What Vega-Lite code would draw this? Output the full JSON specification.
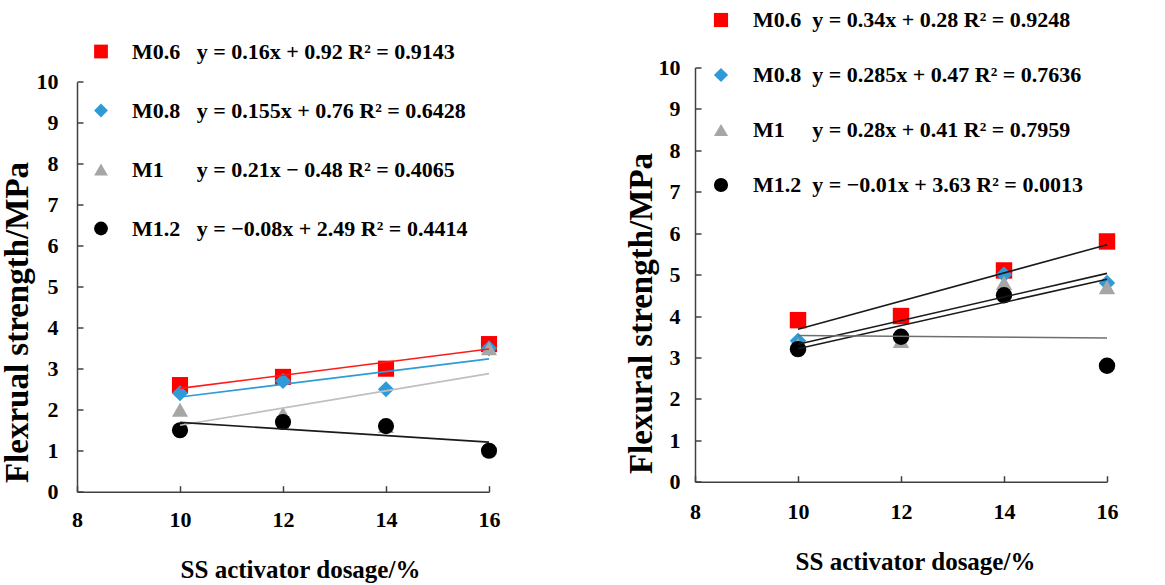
{
  "$schema": "https://vega.github.io/schema/vega-lite/v6.json",
  "autosize": {"type": "none"},
  "padding": {"left": 77, "top": 67.5, "right": 58, "bottom": 93.3},
  "width": 1030,
  "height": 424.2,
  "background": "white",
  "config": {
    "view": {"stroke": null},
    "font": "Liberation Serif",
    "axis": {
      "grid": false,
      "domainColor": "#404040",
      "domainWidth": 1.5,
      "tickColor": "#404040",
      "tickWidth": 1.5,
      "tickSize": -6,
      "labelFont": "Liberation Serif",
      "labelFontSize": 22,
      "labelFontWeight": "bold",
      "labelColor": "#000000",
      "labelFlush": false,
      "labelOverlap": false,
      "titleFont": "Liberation Serif",
      "titleFontWeight": "bold",
      "titleColor": "#000000"
    },
    "legend": {
      "labelFont": "Liberation Serif",
      "labelFontSize": 22,
      "labelFontWeight": "bold",
      "labelColor": "#000000",
      "labelLimit": 600,
      "symbolStrokeWidth": 0
    }
  },
  "datasets": {
    "mortarA": [
      {"series": "M0.6", "dosage": 10, "strength": 2.6},
      {"series": "M0.6", "dosage": 12, "strength": 2.8},
      {"series": "M0.6", "dosage": 14, "strength": 3.0},
      {"series": "M0.6", "dosage": 16, "strength": 3.6},
      {"series": "M0.8", "dosage": 10, "strength": 2.4},
      {"series": "M0.8", "dosage": 12, "strength": 2.7},
      {"series": "M0.8", "dosage": 14, "strength": 2.5},
      {"series": "M0.8", "dosage": 16, "strength": 3.5},
      {"series": "M1", "dosage": 10, "strength": 2.0},
      {"series": "M1", "dosage": 12, "strength": 1.9},
      {"series": "M1", "dosage": 14, "strength": 1.6},
      {"series": "M1", "dosage": 16, "strength": 3.5},
      {"series": "M1.2", "dosage": 10, "strength": 1.5},
      {"series": "M1.2", "dosage": 12, "strength": 1.7},
      {"series": "M1.2", "dosage": 14, "strength": 1.6},
      {"series": "M1.2", "dosage": 16, "strength": 1.0}
    ],
    "mortarB": [
      {"series": "M0.6", "dosage": 10, "strength": 3.9},
      {"series": "M0.6", "dosage": 12, "strength": 4.0},
      {"series": "M0.6", "dosage": 14, "strength": 5.1},
      {"series": "M0.6", "dosage": 16, "strength": 5.8},
      {"series": "M0.8", "dosage": 10, "strength": 3.4},
      {"series": "M0.8", "dosage": 12, "strength": 3.5},
      {"series": "M0.8", "dosage": 14, "strength": 5.0},
      {"series": "M0.8", "dosage": 16, "strength": 4.8},
      {"series": "M1", "dosage": 10, "strength": 3.3},
      {"series": "M1", "dosage": 12, "strength": 3.4},
      {"series": "M1", "dosage": 14, "strength": 4.8},
      {"series": "M1", "dosage": 16, "strength": 4.7},
      {"series": "M1.2", "dosage": 10, "strength": 3.2},
      {"series": "M1.2", "dosage": 12, "strength": 3.5},
      {"series": "M1.2", "dosage": 14, "strength": 4.5},
      {"series": "M1.2", "dosage": 16, "strength": 2.8}
    ]
  },
  "layer": [
    {
      "data": {"name": "mortarA"},
      "encoding": {
        "x": {
          "field": "dosage", "type": "quantitative",
          "scale": {"domain": [8, 16], "range": [0, 412], "nice": false, "zero": false},
          "axis": {"orient": "bottom", "values": [8, 10, 12, 14, 16], "labelFont": "Liberation Serif", "labelFontWeight": "bold", "labelFontSize": 22, "title": "SS activator dosage/%", "titleFontSize": 25, "titleX": 223, "titleY": 78, "titleBaseline": "middle", "labelPadding": 24}
        },
        "y": {
          "field": "strength", "type": "quantitative",
          "scale": {"domain": [0, 10], "range": [424.2, 14.2], "nice": false},
          "axis": {"orient": "left", "values": [0, 1, 2, 3, 4, 5, 6, 7, 8, 9, 10], "labelFont": "Liberation Serif", "labelFontWeight": "bold", "labelFontSize": 22, "title": "Flexrual strength/MPa", "titleFontSize": 33, "titleX": -60, "titleY": 254.5, "titleAngle": -90, "titleBaseline": "middle", "labelPadding": 25}
        }
      },
      "layer": [
        {
          "mark": {"type": "point", "filled": true, "size": 260, "opacity": 1},
          "encoding": {
            "color": {
              "field": "series", "type": "nominal",
              "scale": {"domain": ["M0.6", "M0.8", "M1", "M1.2"], "range": ["#FF0000", "#2E9BD8", "#A6A6A6", "#000000"]},
              "legend": {"orient": "none", "legendX": 13, "legendY": -27, "title": null, "symbolSize": 190, "rowPadding": 37, "labelOffset": 20,
                "labelFont": "Liberation Serif", "labelFontWeight": "bold", "labelFontSize": 22,
                "labelExpr": "datum.label == 'M0.6' ? 'M0.6\u2002 y = 0.16x + 0.92 R\u00b2 = 0.9143' : datum.label == 'M0.8' ? 'M0.8\u2002 y = 0.155x + 0.76 R\u00b2 = 0.6428' : datum.label == 'M1' ? 'M1\u2002\u2002\u2002y = 0.21x \u2212 0.48 R\u00b2 = 0.4065' : 'M1.2\u2002 y = \u22120.08x + 2.49 R\u00b2 = 0.4414'"}
            },
            "shape": {
              "field": "series", "type": "nominal",
              "scale": {"domain": ["M0.6", "M0.8", "M1", "M1.2"], "range": ["square", "diamond", "triangle-up", "circle"]},
              "legend": {"orient": "none", "legendX": 13, "legendY": -27, "title": null, "symbolSize": 190, "rowPadding": 37, "labelOffset": 20,
                "labelFont": "Liberation Serif", "labelFontWeight": "bold", "labelFontSize": 22,
                "labelExpr": "datum.label == 'M0.6' ? 'M0.6\u2002 y = 0.16x + 0.92 R\u00b2 = 0.9143' : datum.label == 'M0.8' ? 'M0.8\u2002 y = 0.155x + 0.76 R\u00b2 = 0.6428' : datum.label == 'M1' ? 'M1\u2002\u2002\u2002y = 0.21x \u2212 0.48 R\u00b2 = 0.4065' : 'M1.2\u2002 y = \u22120.08x + 2.49 R\u00b2 = 0.4414'"}
            }
          }
        },
        {
          "transform": [{"regression": "strength", "on": "dosage", "groupby": ["series"]}],
          "mark": {"type": "line", "strokeWidth": 1.6},
          "encoding": {
            "stroke": {
              "field": "series", "type": "nominal",
              "scale": {"domain": ["M0.6", "M0.8", "M1", "M1.2"], "range": ["#FF1a1a", "#2E9BD8", "#BFBFBF", "#1a1a1a"]},
              "legend": null
            }
          }
        }
      ]
    },
    {
      "data": {"name": "mortarB"},
      "encoding": {
        "x": {
          "field": "dosage", "type": "quantitative",
          "scale": {"domain": [8, 16], "range": [618, 1030], "nice": false, "zero": false},
          "axis": {"orient": "bottom", "offset": -10, "values": [8, 10, 12, 14, 16], "labelFont": "Liberation Serif", "labelFontWeight": "bold", "labelFontSize": 22, "title": "SS activator dosage/%", "titleFontSize": 25, "titleX": 838, "titleY": 80, "titleBaseline": "middle", "labelPadding": 26}
        },
        "y": {
          "field": "strength", "type": "quantitative",
          "scale": {"domain": [0, 10], "range": [414.2, 0], "nice": false},
          "axis": {"orient": "left", "offset": -618, "values": [0, 1, 2, 3, 4, 5, 6, 7, 8, 9, 10], "labelFont": "Liberation Serif", "labelFontWeight": "bold", "labelFontSize": 22, "title": "Flexural strength/MPa", "titleFontSize": 33, "titleX": -54, "titleY": 245.5, "titleAngle": -90, "titleBaseline": "middle", "labelPadding": 21}
        }
      },
      "layer": [
        {
          "mark": {"type": "point", "filled": true, "size": 270, "opacity": 1},
          "encoding": {
            "color": {
              "field": "series", "type": "nominal",
              "scale": {"domain": ["M0.6", "M0.8", "M1", "M1.2"], "range": ["#FF0000", "#2E9BD8", "#A6A6A6", "#000000"]},
              "legend": {"orient": "none", "legendX": 633, "legendY": -58.5, "title": null, "symbolSize": 200, "rowPadding": 33, "labelOffset": 21,
                "labelFont": "Liberation Serif", "labelFontWeight": "bold", "labelFontSize": 22,
                "labelExpr": "datum.label == 'M0.6' ? 'M0.6\u2002y = 0.34x + 0.28 R\u00b2 = 0.9248' : datum.label == 'M0.8' ? 'M0.8\u2002y = 0.285x + 0.47 R\u00b2 = 0.7636' : datum.label == 'M1' ? 'M1\u2002\u2002 y = 0.28x + 0.41 R\u00b2 = 0.7959' : 'M1.2\u2002y = \u22120.01x + 3.63 R\u00b2 = 0.0013'"}
            },
            "shape": {
              "field": "series", "type": "nominal",
              "scale": {"domain": ["M0.6", "M0.8", "M1", "M1.2"], "range": ["square", "diamond", "triangle-up", "circle"]},
              "legend": {"orient": "none", "legendX": 633, "legendY": -58.5, "title": null, "symbolSize": 200, "rowPadding": 33, "labelOffset": 21,
                "labelFont": "Liberation Serif", "labelFontWeight": "bold", "labelFontSize": 22,
                "labelExpr": "datum.label == 'M0.6' ? 'M0.6\u2002y = 0.34x + 0.28 R\u00b2 = 0.9248' : datum.label == 'M0.8' ? 'M0.8\u2002y = 0.285x + 0.47 R\u00b2 = 0.7636' : datum.label == 'M1' ? 'M1\u2002\u2002 y = 0.28x + 0.41 R\u00b2 = 0.7959' : 'M1.2\u2002y = \u22120.01x + 3.63 R\u00b2 = 0.0013'"}
            }
          }
        },
        {
          "transform": [{"regression": "strength", "on": "dosage", "groupby": ["series"]}],
          "mark": {"type": "line", "strokeWidth": 1.6},
          "encoding": {
            "stroke": {
              "field": "series", "type": "nominal",
              "scale": {"domain": ["M0.6", "M0.8", "M1", "M1.2"], "range": ["#1a1a1a", "#1a1a1a", "#1a1a1a", "#6e6e6e"]},
              "legend": null
            }
          }
        }
      ]
    }
  ],
  "resolve": {
    "scale": {"x": "independent", "y": "independent", "color": "independent", "shape": "independent", "stroke": "independent"},
    "axis": {"x": "independent", "y": "independent"},
    "legend": {"color": "independent", "shape": "independent"}
  }
}
